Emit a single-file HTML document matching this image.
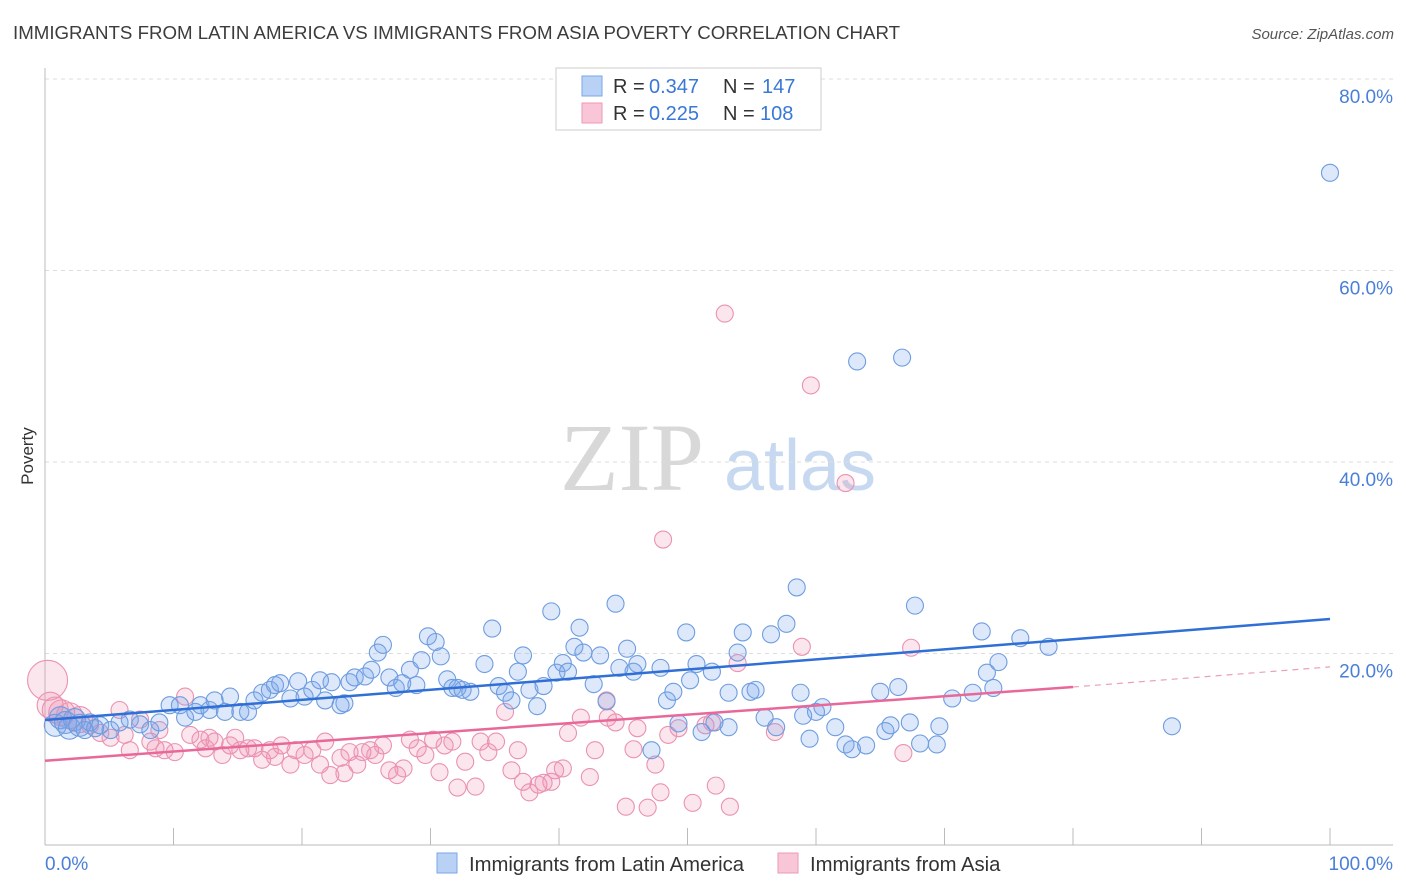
<!DOCTYPE html>
<html><head><meta charset="utf-8">
<style>
body{margin:0;background:#fff;font-family:"Liberation Sans",sans-serif;}
svg{display:block}
</style></head>
<body>
<svg id="chart" width="1406" height="892" xmlns="http://www.w3.org/2000/svg">
<text x="13" y="39" font-size="18.7" fill="#3c3c3c">IMMIGRANTS FROM LATIN AMERICA VS IMMIGRANTS FROM ASIA POVERTY CORRELATION CHART</text>
<text x="1394" y="39" font-size="15" fill="#555" font-style="italic" text-anchor="end">Source: ZipAtlas.com</text>
<text x="33" y="456" font-size="17" fill="#333" text-anchor="middle" transform="rotate(-90 33 456)">Poverty</text>
<g>
<text x="632" y="490" font-size="96" font-family="Liberation Serif,serif" fill="#d8d8d8" text-anchor="middle">ZIP</text>
<text x="800" y="490" font-size="72" fill="#c6d9f0" text-anchor="middle">atlas</text>
</g>
<g id="grid"></g>
<g id="axes"></g>
<g id="pinkPts"></g>
<g id="bluePts"></g>
<g id="trends"></g>
<g>
<rect x="556" y="68" width="265" height="62" fill="#fff" stroke="#ccc"/>
<rect x="582" y="76" width="20" height="20" fill="#b9d1f5" stroke="#7aa6e6"/>
<rect x="582" y="103" width="20" height="20" fill="#f8c6d6" stroke="#ec9ab6"/>
<text x="613" y="93" font-size="20" fill="#333">R =</text>
<text x="649" y="93" font-size="20" fill="#3a78d6">0.347</text>
<text x="723" y="93" font-size="20" fill="#333">N =</text>
<text x="762" y="93" font-size="20" fill="#3a78d6">147</text>
<text x="613" y="120" font-size="20" fill="#333">R =</text>
<text x="649" y="120" font-size="20" fill="#3a78d6">0.225</text>
<text x="723" y="120" font-size="20" fill="#333">N =</text>
<text x="760" y="120" font-size="20" fill="#3a78d6">108</text>
</g>
<g>
<rect x="437" y="853" width="20" height="20" fill="#b9d1f5" stroke="#7aa6e6"/>
<text x="469" y="871" font-size="20.3" fill="#333">Immigrants from Latin America</text>
<rect x="778" y="853" width="20" height="20" fill="#f8c6d6" stroke="#ec9ab6"/>
<text x="810" y="871" font-size="20.3" fill="#333">Immigrants from Asia</text>
</g>
</svg>
<script>
const yTicks=[20,40,60,80];
const xTickLabels=["0.0%","100.0%"];
const blueX=[0.8,1.2,1.6,1.9,2.3,2.7,3.1,3.5,3.9,4.3,5.1,5.8,6.6,7.4,8.2,8.9,9.7,10.5,10.9,11.7,12.1,12.8,13.2,14.0,14.4,15.2,15.8,16.3,16.9,17.5,17.9,18.3,19.1,19.7,20.2,20.8,21.4,21.8,22.3,23.0,23.3,23.7,24.1,24.9,25.4,25.9,26.3,26.8,27.3,27.8,28.4,28.9,29.3,29.8,30.4,30.8,31.3,31.7,32.1,32.5,33.1,34.2,34.8,35.3,35.8,36.3,36.8,37.2,37.7,38.3,38.8,39.4,39.8,40.3,40.7,41.2,41.6,41.9,42.7,43.2,43.7,44.4,44.7,45.3,45.8,46.1,47.2,47.9,48.4,48.9,49.3,49.9,50.2,50.7,51.1,51.9,52.1,53.2,53.2,53.9,54.3,54.9,55.3,56.0,56.5,56.9,57.7,58.5,58.8,59.0,59.5,60.0,60.5,61.5,62.3,62.8,63.2,63.9,65.0,65.4,65.8,66.4,66.7,67.3,67.7,68.1,69.4,69.6,70.6,72.2,72.9,73.3,73.8,74.2,75.9,78.1,87.7,100];
const blueY=[12.5,13.3,12.8,12.2,13.1,12.5,12.0,12.8,12.2,12.5,12.0,12.8,13.1,12.6,12.0,12.8,14.6,14.6,13.3,13.9,14.6,14.1,15.1,13.9,15.5,13.9,13.9,15.1,15.9,16.2,16.7,16.9,15.3,17.1,15.5,16.2,17.2,15.1,17.0,14.6,14.8,17.0,17.5,17.6,18.3,20.1,20.9,17.5,16.4,16.9,18.3,16.7,19.3,21.8,21.2,19.7,17.3,16.4,16.4,16.2,16.0,18.9,22.6,16.6,15.9,15.1,18.1,19.8,16.2,14.5,16.6,24.4,18.0,19.0,18.1,20.7,22.7,20.1,16.8,19.8,15.0,25.2,18.5,20.5,18.1,18.9,9.9,18.5,15.1,16.0,12.7,22.2,17.2,18.9,11.8,18.1,12.8,12.3,15.9,20.1,22.2,16.0,16.2,13.3,22.0,12.3,23.1,26.9,15.9,13.5,11.1,13.9,14.4,12.3,10.5,10.0,50.5,10.4,16.0,11.9,12.5,16.5,50.9,12.8,25.0,10.6,10.5,12.4,15.3,15.9,22.3,18.0,16.4,19.1,21.6,20.7,12.4,70.2];
const pinkX=[0.2,0.4,0.8,1.3,1.9,2.7,3.5,4.3,5.1,5.8,6.2,6.6,7.4,8.2,8.6,8.9,9.3,10.1,10.9,11.3,12.1,12.5,12.8,13.2,13.8,14.4,14.8,15.2,15.8,16.3,16.9,17.5,17.9,18.4,19.1,19.5,20.2,20.8,21.4,21.8,22.2,23.0,23.3,23.7,24.3,24.7,25.3,25.7,26.3,26.8,27.4,27.9,28.4,29.0,29.6,30.2,30.7,31.1,31.7,32.1,32.7,33.5,33.9,34.5,35.1,35.8,36.3,36.8,37.2,37.7,38.4,38.8,39.4,39.7,40.3,40.7,41.7,42.4,42.8,43.7,43.8,44.4,45.2,45.8,46.1,46.9,47.5,47.9,48.1,48.5,49.3,50.4,51.4,51.9,52.2,52.9,53.3,53.9,56.8,58.9,59.6,62.3,66.8,67.4];
const pinkY=[17.2,14.6,14.1,13.8,13.5,13.1,12.5,11.7,11.2,14.1,11.5,9.9,13.1,10.8,10.1,12.0,9.9,9.7,15.5,11.5,11.0,10.1,11.2,10.8,9.4,10.4,11.2,9.9,10.1,10.1,8.9,9.9,9.2,10.4,8.4,9.9,9.4,9.9,8.4,10.8,7.3,9.1,7.5,9.7,8.4,9.7,9.9,9.4,10.4,7.8,7.3,8.0,11.0,10.1,9.4,11.0,7.6,10.4,10.8,6.0,8.7,6.1,10.8,9.7,10.8,13.9,7.8,9.9,6.6,5.5,6.3,6.5,6.6,7.8,8.0,11.7,13.3,7.1,9.9,15.1,13.3,12.8,4.0,10.0,12.2,3.9,8.4,5.5,31.9,11.5,12.2,4.4,12.5,12.8,6.2,55.5,4.0,19.0,11.8,20.7,48.0,37.8,9.6,20.6];
const blueTrendX=[0,100];
const blueTrendY=[13.05,23.6];
const pinkTrendX=[0,80,100];
const pinkTrendY=[8.8,16.5,18.6];

const NS="http://www.w3.org/2000/svg";
const X0=45,X1=1330,Y0=845,YPX=9.575;
function sx(v){return X0+(X1-X0)*v/100;}
function sy(v){return Y0-v*YPX;}
function mk(tag,attrs,parent){const e=document.createElementNS(NS,tag);for(const k in attrs)e.setAttribute(k,attrs[k]);parent.appendChild(e);return e;}

const grid=document.getElementById('grid');
yTicks.forEach(t=>{
  const l=mk('line',{x1:45,x2:1393,y1:sy(t),y2:sy(t),stroke:'#ddd','stroke-dasharray':'4,4'},grid);
  
  
  const tx=mk('text',{x:1393,y:sy(t)+24,'font-size':19,fill:'#4a7fd8','text-anchor':'end'},grid);
  tx.textContent=t.toFixed(1)+'%';
  
  
});
const axes=document.getElementById('axes');
const ya=mk('line',{x1:45,x2:45,y1:68,y2:845,stroke:'#bbb'},axes);


const xa=mk('line',{x1:45,x2:1393,y1:845,y2:845,stroke:'#bbb'},axes);


for(let i=0;i<=10;i++){
  const tk=mk('line',{x1:sx(i*10),x2:sx(i*10),y1:828,y2:845,stroke:'#bbb'},axes);
  
  
}
const xl0=mk('text',{x:45,y:870,'font-size':19,fill:'#4a7fd8'},axes);
xl0.textContent=xTickLabels[0];


const xl1=mk('text',{x:1393,y:870,'font-size':19,fill:'#4a7fd8','text-anchor':'end'},axes);
xl1.textContent=xTickLabels[1];



const bg=document.getElementById('bluePts');
blueX.forEach((x,i)=>{
  const r=i<6?11:8.5;
  const c=mk('circle',{cx:sx(x),cy:sy(blueY[i]),r:r,fill:'rgba(120,165,235,0.25)',stroke:'#6e9de0','stroke-width':1.1},bg);
  
  
});
const pg=document.getElementById('pinkPts');
pinkX.forEach((x,i)=>{
  const r=i===0?20:(i<6?13:8.5);
  const c=mk('circle',{cx:sx(x),cy:sy(pinkY[i]),r:r,fill:'rgba(242,140,175,0.22)',stroke:'#ea92b2','stroke-width':1.1},pg);
  
  
});
const tg=document.getElementById('trends');
const bt=mk('line',{x1:sx(blueTrendX[0]),y1:sy(blueTrendY[0]),x2:sx(blueTrendX[1]),y2:sy(blueTrendY[1]),stroke:'#2f6fd6','stroke-width':2.5},tg);


const pt=mk('line',{x1:sx(pinkTrendX[0]),y1:sy(pinkTrendY[0]),x2:sx(pinkTrendX[1]),y2:sy(pinkTrendY[1]),stroke:'#e8689a','stroke-width':2.5},tg);


const pd=mk('line',{x1:sx(pinkTrendX[1]),y1:sy(pinkTrendY[1]),x2:sx(pinkTrendX[2]),y2:sy(pinkTrendY[2]),stroke:'#e8a0bb','stroke-width':1.2,'stroke-dasharray':'6,5'},tg);


</script>
</body></html>
